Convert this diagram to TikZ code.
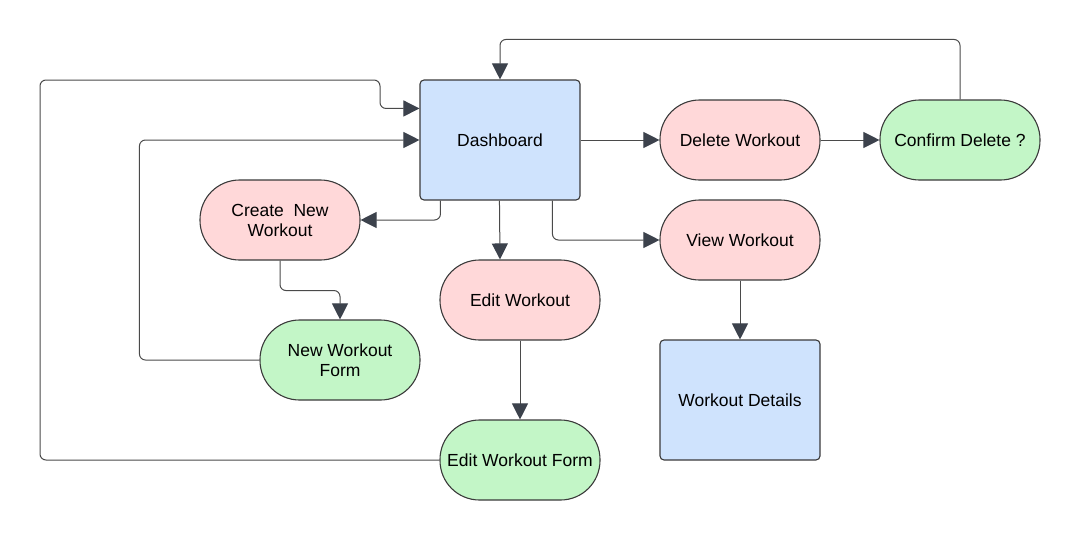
\documentclass[tikz,border=0pt]{standalone}
\usepackage{fontspec}
\setmainfont{Liberation Sans}
\usetikzlibrary{arrows.meta}
\definecolor{bluefill}{HTML}{CFE3FD}
\definecolor{pinkfill}{HTML}{FFD8D9}
\definecolor{greenfill}{HTML}{C3F6C7}
\definecolor{edgec}{HTML}{3A3A3A}
\definecolor{linec}{HTML}{4A4A4A}
\definecolor{arrowc}{HTML}{3C424C}
\begin{document}
\begin{tikzpicture}[x=1pt,y=-1pt,
 base/.style={draw=edgec, line width=1.1pt, minimum width=160pt, inner sep=0pt, align=center, font=\fontsize{17.5}{20}\selectfont, text=black},
 pill/.style={base, rounded corners=39.5pt, minimum height=80pt},
 pinkpill/.style={pill, fill=pinkfill},
 greenpill/.style={pill, fill=greenfill},
 bluebox/.style={base, fill=bluefill, rounded corners=4pt, minimum height=120pt},
 conn/.style={draw=linec, line width=1pt, rounded corners=6pt, -{Triangle[length=16pt,width=16pt,color=arrowc]}}
]
\useasboundingbox (0,0) rectangle (1080,541);

\node[bluebox] (dash) at (500,140) {Dashboard};
\node[pinkpill] (del) at (740,140) {Delete Workout};
\node[greenpill] (conf) at (960,140) {Confirm Delete ?};
\node[pinkpill] (create) at (280,220) {Create\ \ New\\Workout};
\node[pinkpill] (view) at (740,240) {View Workout};
\node[pinkpill] (edit) at (520,300) {Edit Workout};
\node[greenpill] (nform) at (340,360) {New Workout\\Form};
\node[bluebox] (det) at (740,400) {Workout Details};
\node[greenpill] (eform) at (520,460) {Edit Workout Form};

\coordinate (ltop) at (40,80);
\coordinate (lturn) at (380,80);

\draw[conn] (dash.east) -- (del.west);
\draw[conn] (del.east) -- (conf.west);
\draw[conn] (conf.north) -- ++(0,-60) -| (dash.north);
\draw[conn] ([xshift=21pt]dash.south west) |- (create.east);
\draw[conn] ([xshift=80pt]dash.south west) -- ([xshift=-20pt]edit.north);
\draw[conn] ([xshift=133pt]dash.south west) |- (view.west);
\draw[conn] (view.south) -- (det.north);
\draw[conn] (edit.south) -- (eform.north);
\draw[conn] (create.south) -- ++(0,30) -| (nform.north);
\draw[conn] (nform.west) -- ++(-120,0) |- (dash.west);
\draw[conn] (eform.west) -| (ltop) -- (lturn) |- ([yshift=-29pt]dash.north west);
\end{tikzpicture}
\end{document}
